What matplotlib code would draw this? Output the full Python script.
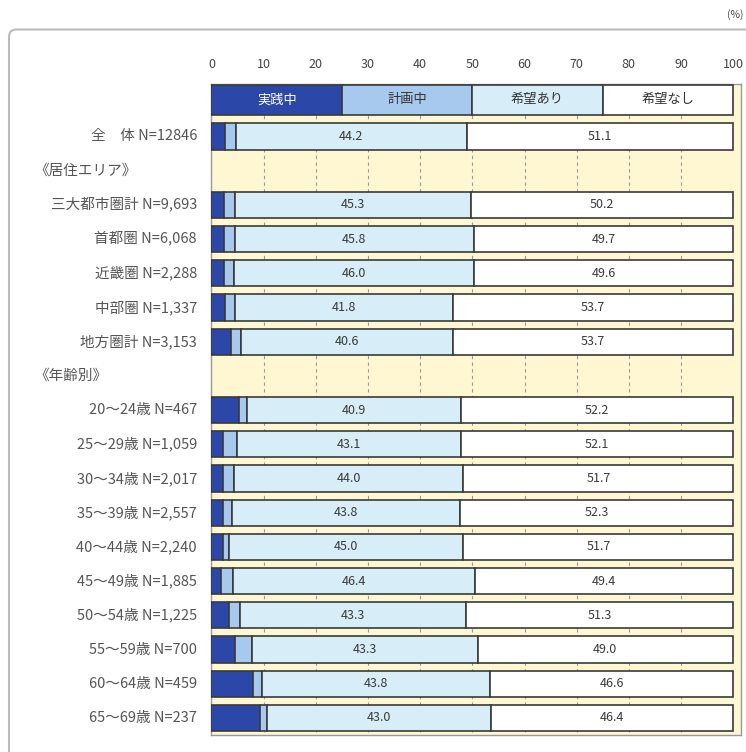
import matplotlib.pyplot as plt
from matplotlib.patches import FancyBboxPatch
from matplotlib.transforms import blended_transform_factory

plt.rcParams['font.family'] = ['Noto Sans CJK JP', 'DejaVu Sans']

# rows from top to bottom; section headers have no data
labels = ['全　体 N=12846', '《居住エリア》', '三大都市圏計 N=9,693', '首都圏 N=6,068',
          '近畿圏 N=2,288', '中部圏 N=1,337', '地方圏計 N=3,153', '《年齢別》',
          '20～24歳 N=467', '25～29歳 N=1,059', '30～34歳 N=2,017', '35～39歳 N=2,557',
          '40～44歳 N=2,240', '45～49歳 N=1,885', '50～54歳 N=1,225', '55～59歳 N=700',
          '60～64歳 N=459', '65～69歳 N=237']
jissen = [2.6, None, 2.4, 2.4, 2.4, 2.5, 3.8, None, 5.3, 2.3, 2.3, 2.2, 2.2, 1.9, 3.3, 4.5, 7.9, 9.3]
keikaku = [2.1, None, 2.1, 2.1, 2.0, 2.0, 1.9, None, 1.6, 2.5, 2.0, 1.7, 1.1, 2.3, 2.1, 3.2, 1.7, 1.3]
kibou_ari = [44.2, None, 45.3, 45.8, 46.0, 41.8, 40.6, None, 40.9, 43.1, 44.0, 43.8, 45.0, 46.4,
             43.3, 43.3, 43.8, 43.0]
kibou_nashi = [51.1, None, 50.2, 49.7, 49.6, 53.7, 53.7, None, 52.2, 52.1, 51.7, 52.3, 51.7, 49.4,
               51.3, 49.0, 46.6, 46.4]

series_names = ['実践中', '計画中', '希望あり', '希望なし']
colors = ['#2B47A8', '#A8C9EE', '#D7EEF8', '#FFFFFF']
ticks = list(range(0, 101, 10))

fig = plt.figure(figsize=(7.46, 7.52), dpi=100)
ax = fig.add_axes([0.2835, 0.0226, 0.7098, 0.8657])
ax.set_facecolor('#FFF6D2')

edge = '#3A3A3A'
bar_h = 0.77
series = [jissen, keikaku, kibou_ari, kibou_nashi]
for i in range(len(labels)):
    if jissen[i] is None:
        continue
    left = 0
    for j, s in enumerate(series):
        ax.barh(i, s[i], left=left, height=bar_h, color=colors[j],
                edgecolor=edge, linewidth=1.2, zorder=3)
        if j >= 2:
            ax.text(left + s[i] / 2, i, f'{s[i]:.1f}', ha='center', va='center',
                    fontsize=9, color='#3A3A3A', zorder=4)
        left += s[i]

# legend drawn as a stacked row above the data
leg_y = -1.07
for j, name in enumerate(series_names):
    ax.barh(leg_y, 25, left=25 * j, height=0.88, color=colors[j],
            edgecolor=edge, linewidth=1.2, zorder=3)
    ax.text(25 * j + 12.5, leg_y, name, ha='center', va='center', fontsize=9.5,
            color='white' if j == 0 else '#333333', zorder=4)

# dashed guide lines behind the bars
ax.vlines(ticks[1:-1], -1.6, 17.6, colors='#9A9A9A', linestyles=(0, (3, 3)),
          linewidth=0.8, zorder=1)

ax.set_xlim(0, 101.5)
ax.set_ylim(17.5, -1.535)
ax.set_xticks(ticks)
ax.tick_params(axis='x', top=True, labeltop=True, bottom=False, labelbottom=False,
               length=0, pad=9, labelsize=9, labelcolor='#444444')
ax.set_yticks([])
for sp in ax.spines.values():
    sp.set_color('#999999')
    sp.set_linewidth(1.0)

# row labels: sections left aligned, others right aligned next to the axes
tr = blended_transform_factory(fig.transFigure, ax.transData)
for i, lab in enumerate(labels):
    if jissen[i] is None:
        ax.text(34 / 746, i, lab, transform=tr, ha='left', va='center',
                fontsize=10.5, color='#555555')
    else:
        ax.text(197 / 746, i, lab, transform=tr, ha='right', va='center',
                fontsize=10.5, color='#555555')

fig.text(743 / 746, 1 - 15 / 752, '(%)', ha='right', va='center', fontsize=7.5,
         color='#444444')

frame = FancyBboxPatch((9 / 746, -0.1), 1.2, 1 - 29.5 / 752 + 0.1,
                       boxstyle='round,pad=0,rounding_size=0.01',
                       transform=fig.transFigure, facecolor='none',
                       edgecolor='#BBBBBB', linewidth=1.5)
fig.patches.append(frame)

fig.savefig('out.png', dpi=100)
